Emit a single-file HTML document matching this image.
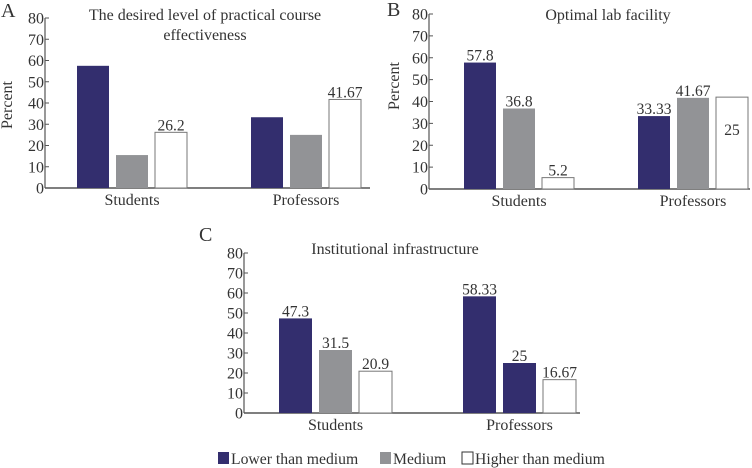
<!DOCTYPE html>
<html><head><meta charset="utf-8"><style>
html,body{margin:0;padding:0;background:#fff}
svg{display:block}
text{font-family:"Liberation Serif",serif;fill:#333}
</style></head><body>
<svg id="c" width="752" height="468"></svg>
<script>
const categories=["Students","Professors"];
const seriesNames=["Lower than medium","Medium","Higher than medium"];
const ticks=[0,10,20,30,40,50,60,70,80];
const aLow=[57.5,33.3];const aMed=[15.5,25];const aHigh=[26.2,41.67];
const aLabels=[[null,null,"26.2"],[null,null,"41.67"]];
const bLow=[57.8,33.33];const bMed=[36.8,41.67];const bHigh=[5.2,42];
const bLabels=[["57.8","36.8","5.2"],["33.33","41.67","25"]];
const cLow=[47.3,58.33];const cMed=[31.5,25];const cHigh=[20.9,16.67];
const cLabels=[["47.3","31.5","20.9"],["58.33","25","16.67"]];
const colors=[["#332e6e","#929396","#fff"],["#332e6e","#929396","#fff"]];
const cColors=[["#332e6e","#929396","#fff"],["#332e6e","#332e6e","#fff"]];
const svg=document.getElementById('c');
const NS="http://www.w3.org/2000/svg";
function mk(tag,attrs,txt,parent){const e=document.createElementNS(NS,tag);for(const k in attrs)e.setAttribute(k,attrs[k]);if(txt!=null)e.textContent=txt;(parent||svg).appendChild(e);return e;}
function panel(p){
  const g=mk('g',{});
  
  
  const y=v=>p.y0-(p.y0-p.y80)*v/80;
  const ax=mk('line',{x1:p.ax,y1:p.y0,x2:p.axEnd,y2:p.y0,stroke:'#555','stroke-width':1.5},null,g);
  
  const ay=mk('line',{x1:p.ax,y1:p.y0,x2:p.ax,y2:p.y80,stroke:'#555','stroke-width':1.2},null,g);
  
  ticks.forEach(t=>{
    mk('line',{x1:p.ax,y1:y(t),x2:p.ax+4,y2:y(t),stroke:'#555'},null,g);
    const tl=mk('text',{x:p.ax-1,y:y(t)+5.5,'text-anchor':'end','font-size':16},String(t),g);
    
  });
  const series=[p.low,p.med,p.high];
  categories.forEach((c,ci)=>{
    series.forEach((s,si)=>{
      const x=p.groupX[ci]+si*p.step, v=s[ci];
      const r=mk('rect',{x:x,y:y(v),width:p.bw,height:y(0)-y(v),fill:p.colors[ci][si],stroke:si==2?'#777':'none','stroke-width':1},null,g);
      
      
      const lab=p.labels[ci][si];
      if(lab){
        const inside=(p.id==='b'&&ci===1&&si===2);
        const ly=inside?y(v)+38:y(v)-2;
        const tt=mk('text',{x:x+p.bw/2,y:ly,'text-anchor':'middle','font-size':15.5},lab,g);
        
      }
    });
    const cx=p.groupX[ci]+p.step+p.bw/2;
    const xl=mk('text',{x:cx,y:p.y0+17,'text-anchor':'middle','font-size':16},c,g);
    
  });
  p.title.forEach((t,i)=>{
    const tt=mk('text',{x:p.tx,y:p.ty+i*20,'text-anchor':'middle','font-size':16},t,g);
    
  });
  const L=mk('text',{x:p.lx,y:p.ly,'font-size':20},p.letter,g);
  
  if(p.px){const pl=mk('text',{x:p.px,y:p.py,'text-anchor':'middle','font-size':16,transform:`rotate(-90 ${p.px} ${p.py})`},'Percent',g);
  }
}
panel({id:'a',letter:'A',lx:1,ly:17,ax:45,axEnd:370,y0:188,y80:18,groupX:[77,251],step:39,bw:32,low:aLow,med:aMed,high:aHigh,labels:aLabels,colors:colors,title:['The desired level of practical course','effectiveness'],tx:205,ty:20,px:12,py:105});
panel({id:'b',letter:'B',lx:387,ly:16,ax:429,axEnd:750,y0:189,y80:14,groupX:[464,638],step:39,bw:32,low:bLow,med:bMed,high:bHigh,labels:bLabels,colors:colors,title:['Optimal lab facility'],tx:608,ty:20,px:399,py:86});
panel({id:'c',letter:'C',lx:199,ly:241,ax:244,axEnd:580,y0:413,y80:253,groupX:[279,463],step:40,bw:33,low:cLow,med:cMed,high:cHigh,labels:cLabels,colors:cColors,title:['Institutional infrastructure'],tx:395,ty:254});
const legX=[218,380,462];
seriesNames.forEach((n,i)=>{
  const r=mk('rect',{x:legX[i],y:452,width:11,height:12,fill:colors[0][i],stroke:i==2?'#333':'none'});
  
  const t=mk('text',{x:legX[i]+13,y:464,'font-size':15.7},n);
  
});
</script>
</body></html>
